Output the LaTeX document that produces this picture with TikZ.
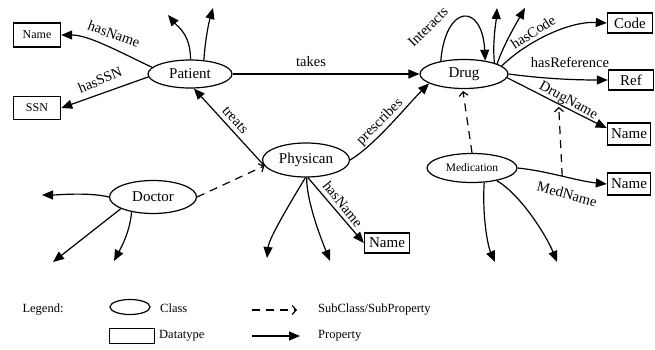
\documentclass[tikz,border=0pt]{standalone}
\usepackage{fontspec}
\setmainfont{Liberation Serif}
\usetikzlibrary{arrows.meta,shapes.geometric}
\begin{document}
\begin{tikzpicture}[x=1pt,y=-1pt,
 cls/.style={draw,ellipse,line width=1.2pt,inner sep=0pt,font=\fontsize{15}{18}\selectfont},
 dt/.style={draw,rectangle,line width=1.4pt,inner sep=0pt,font=\fontsize{15}{18}\selectfont},
 prop/.style={line width=1.2pt,-{Triangle[length=11pt,width=9pt]}},
 sub/.style={line width=1.2pt,dash pattern=on 8pt off 6pt,-{Straight Barb[length=4pt,width=9pt]}},
 lbl/.style={font=\fontsize{14.5}{17}\selectfont,inner sep=0pt},
 leg/.style={font=\fontsize{12.5}{15}\selectfont,inner sep=0pt}]
\useasboundingbox (0,0) rectangle (655,350);

% classes
\node[cls,minimum width=84pt,minimum height=28pt] (patient) at (190,74) {Patient};
\node[cls,minimum width=88pt,minimum height=29pt] (drug) at (464,74) {Drug};
\node[cls,minimum width=87pt,minimum height=34pt] (phys) at (306,160) {Physican};
\node[cls,minimum width=87pt,minimum height=33pt] (doctor) at (153,197) {Doctor};
\node[cls,minimum width=90pt,minimum height=29pt,font=\fontsize{11.5}{14}\selectfont] (med) at (472,168) {Medication};

% datatypes
\node[dt,minimum width=47pt,minimum height=24pt,font=\fontsize{12}{14}\selectfont] (name1) at (37,35) {Name};
\node[dt,minimum width=47pt,minimum height=23pt,font=\fontsize{12}{14}\selectfont] (ssn) at (37,108) {SSN};
\node[dt,minimum width=45pt,minimum height=20pt] (code) at (630,23) {Code};
\node[dt,minimum width=45pt,minimum height=20pt] (ref) at (631,80) {Ref};
\node[dt,minimum width=43pt,minimum height=22pt] (name2) at (629,134) {Name};
\node[dt,minimum width=43pt,minimum height=22pt] (name3) at (629,184) {Name};
\node[dt,minimum width=45pt,minimum height=20pt] (name4) at (387,243) {Name};

% free ends
\coordinate (pu1) at (168,15);
\coordinate (pu2) at (213,8);
\coordinate (du1) at (497,8);
\coordinate (du2) at (525,8);
\coordinate (docl) at (42,195);
\coordinate (docd1) at (53,262);
\coordinate (docd2) at (114,261);
\coordinate (phd1) at (267,258);
\coordinate (phd2) at (330,261);
\coordinate (medd1) at (495,262);
\coordinate (medd2) at (557,262);

% Patient edges
\draw[prop] (patient.170) .. controls +(-30,-14) and +(28,0) .. (name1.east);
\draw[prop] (patient.184) -- (ssn.east);
\draw[prop] (patient.88) .. controls +(0,-25) and +(10,12) .. (pu1);
\draw[prop] (patient.45) .. controls +(2,-25) and +(-4,14) .. (pu2);
\draw[prop] (patient.east) -- (drug.west);
\node[lbl,rotate=-20] (l-hasname) at (114,34) {hasName};
\node[lbl,rotate=22] (l-hasssn) at (100,80) {hasSSN};
\node[lbl] (l-takes) at (311,62) {takes};

% Physican edges
\draw[prop] (phys.188) -- (patient.285);
\node[lbl,rotate=-48] (l-treats) at (235,120) {treats};
\draw[sub] (doctor.east) -- (phys.188);
\draw[prop] (phys.east) .. controls +(25,-15) and +(-22,22) .. (drug.195);
\node[lbl,rotate=45] (l-presc) at (380,122) {prescribes};
\draw[prop] (phys.-92) .. controls +(-15,25) and +(2,-20) .. (phd1);
\draw[prop] (phys.-88) .. controls +(0,25) and +(-8,-20) .. (phd2);
\draw[prop] (phys.-84) -- (name4.west);
\node[lbl,rotate=-51] (l-hasname2) at (343,204) {hasName};

% Drug edges
\draw[prop] (drug.151) .. controls +(5,-58) and +(-3,-58) .. (drug.32);
\node[lbl,rotate=45] (l-inter) at (428,27) {Interacts};
\draw[prop] (drug.20) .. controls +(-2,-22) and +(-1,15) .. (du1);
\draw[prop] (drug.17) .. controls +(6,-18) and +(-8,14) .. (du2);
\draw[prop] (drug.12) .. controls +(22,-22) and +(-40,-2) .. (code.west);
\node[lbl,rotate=33] (l-code) at (533,32) {hasCode};
\draw[prop] (drug.east) .. controls +(30,4) and +(-40,0) .. (ref.west);
\node[lbl] (l-ref) at (570,62) {hasReference};
\draw[prop] (drug.-5) .. controls +(20,10) and +(-25,-12) .. (name2.165) coordinate[pos=0.53] (dnm);
\node[lbl,rotate=-29] (l-dname) at (568,101) {DrugName};

% Medication edges
\draw[sub,shorten >=2pt] (med.north) -- (drug.265);
\draw[prop] (med.east) .. controls +(30,3) and +(-30,-3) .. (name3.west) coordinate[pos=0.5] (mnm);
\node[lbl,rotate=-15] (l-mname) at (567,194) {MedName};
\draw[sub,shorten >=3pt] (mnm) -- (dnm);
\draw[prop] (med.-50) .. controls +(-2,30) and +(-8,-18) .. (medd1);
\draw[prop] (med.-27) .. controls +(25,15) and +(-10,-25) .. (medd2);

% Doctor edges
\draw[prop] (doctor.west) .. controls +(-20,-5) and +(15,0) .. (docl);
\draw[prop] (doctor.-160) -- (docd1);
\draw[prop] (doctor.-145) .. controls +(-2,20) and +(8,-15) .. (docd2);

% Legend
\node[leg] (legt) at (43,310) {Legend:};
\node[draw,ellipse,line width=1.2pt,minimum width=40pt,minimum height=15pt,inner sep=0pt] (lcls) at (130,307) {};
\node[leg,anchor=west] (lclst) at (160,308) {Class};
\node[draw,rectangle,line width=1.4pt,minimum width=45pt,minimum height=15pt,inner sep=0pt] (ldt) at (132,336) {};
\node[leg,anchor=west] (ldtt) at (159,336) {Datatype};
\coordinate (ls1) at (252,310);
\coordinate (ls2) at (297,310);
\draw[sub] (ls1) -- (ls2);
\coordinate (lp1) at (252,336);
\coordinate (lp2) at (300,336);
\draw[prop] (lp1) -- (lp2);
\node[leg,anchor=west] (lsubt) at (318,310) {SubClass/SubProperty};
\node[leg,anchor=west] (lpropt) at (318,336) {Property};
\end{tikzpicture}
\end{document}
